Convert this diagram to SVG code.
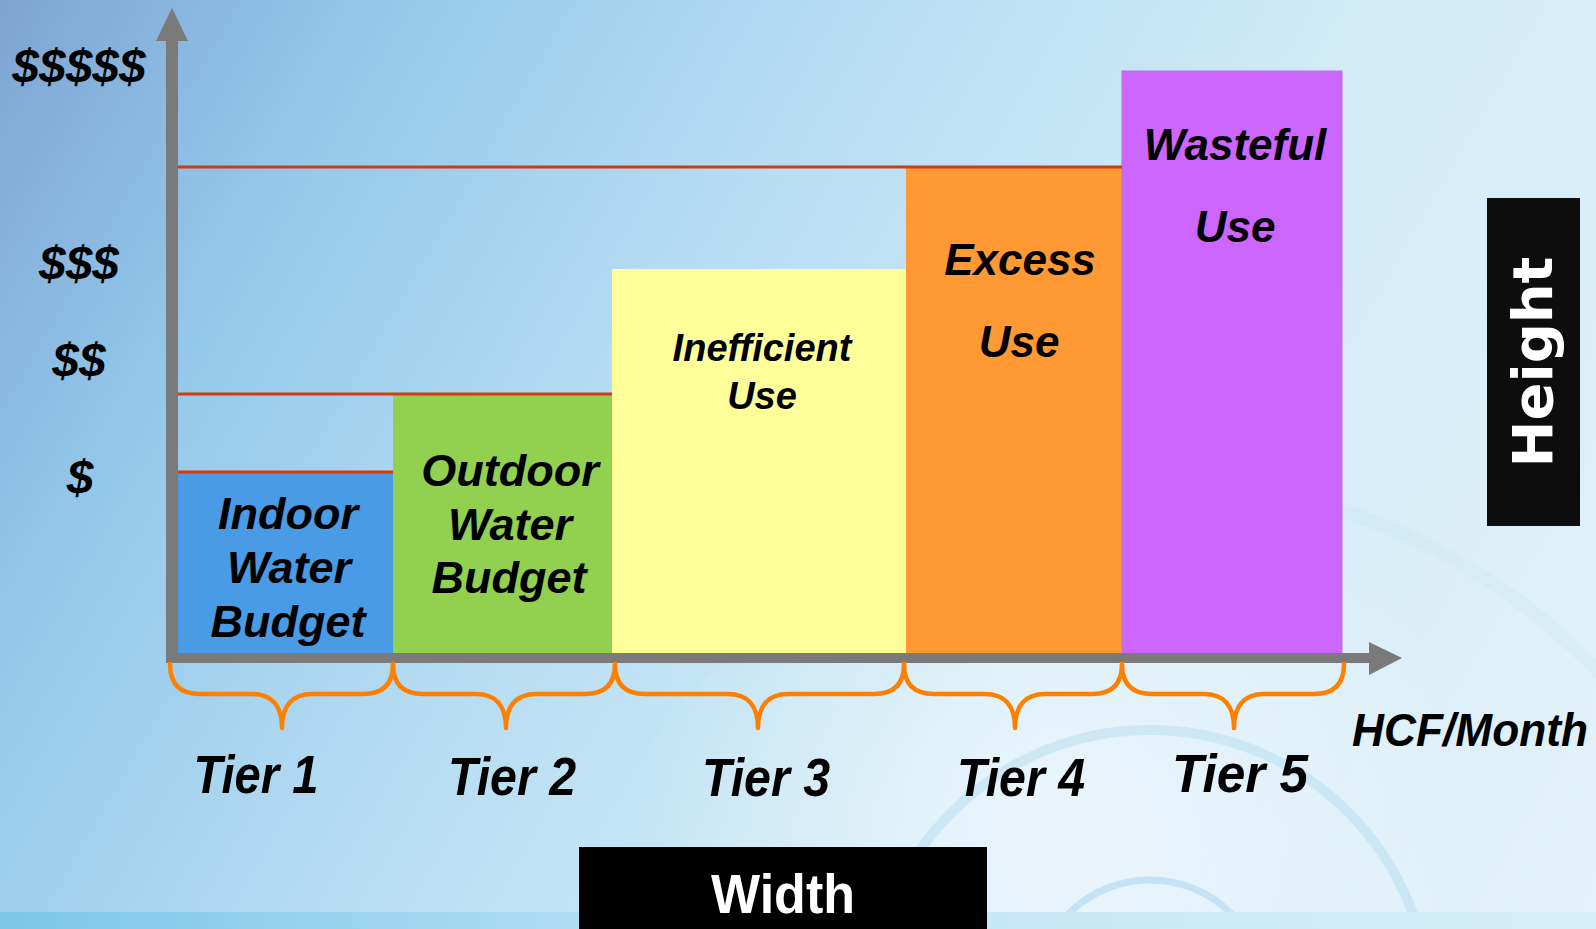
<svg xmlns="http://www.w3.org/2000/svg" width="1596" height="929" viewBox="0 0 1596 929">
<defs>
<linearGradient id="bg" x1="0" y1="0" x2="1596" y2="929" gradientUnits="userSpaceOnUse">
<stop offset="0" stop-color="#7ea4d2"/>
<stop offset="0.18" stop-color="#94c8ea"/>
<stop offset="0.4" stop-color="#b6ddf2"/>
<stop offset="0.65" stop-color="#d2ebf7"/>
<stop offset="1" stop-color="#e4f2fa"/>
</linearGradient>
<radialGradient id="glow" cx="1050" cy="820" r="420" gradientUnits="userSpaceOnUse">
<stop offset="0" stop-color="#ffffff" stop-opacity="0.5"/>
<stop offset="1" stop-color="#ffffff" stop-opacity="0"/>
</radialGradient>
<linearGradient id="strip" x1="0" y1="0" x2="1596" y2="0" gradientUnits="userSpaceOnUse">
<stop offset="0" stop-color="#7cc6ea"/>
<stop offset="0.5" stop-color="#c2e5f5"/>
<stop offset="1" stop-color="#d6eef9"/>
</linearGradient>
<style>
.lbl{font-family:"Liberation Sans",Arial,sans-serif;font-weight:bold;font-style:italic;fill:#000;text-anchor:middle}
.axis{fill:#7a7a7a}
.red{stroke:#d23a12;stroke-width:3;fill:none}
.brace{stroke:#ff8000;stroke-width:4.5;fill:none;stroke-linecap:round;stroke-linejoin:round}
.ripple{fill:none;stroke:#bcdff2}
</style>
</defs>
<rect x="0" y="0" width="1596" height="929" fill="url(#bg)"/>
<rect x="0" y="0" width="1596" height="929" fill="url(#glow)"/>
<g id="ripples">
<circle class="ripple" cx="1150" cy="1010" r="280" stroke-width="10" opacity="0.6"/>
<circle class="ripple" cx="1150" cy="995" r="115" stroke-width="7" opacity="0.8"/>
<circle class="ripple" cx="1150" cy="1100" r="620" stroke-width="14" opacity="0.2"/>
</g>
<rect x="0" y="912" width="1596" height="17" fill="url(#strip)"/>

<g id="bar-tier1"><rect x="178" y="473" width="215" height="183" fill="#4a9be6"/>
<text class="lbl" font-size="45" x="288" y="529">Indoor</text>
<text class="lbl" font-size="45" x="289" y="583">Water</text>
<text class="lbl" font-size="45" x="288" y="637">Budget</text></g>
<g id="bar-tier2"><rect x="393" y="395" width="219" height="261" fill="#92d050"/>
<text class="lbl" font-size="45" x="510" y="486">Outdoor</text>
<text class="lbl" font-size="45" x="510" y="540">Water</text>
<text class="lbl" font-size="45" x="509" y="593">Budget</text></g>
<g id="bar-tier3"><rect x="612" y="269" width="294" height="387" fill="#ffff99"/>
<text class="lbl" font-size="38" x="762" y="361">Inefficient</text>
<text class="lbl" font-size="38" x="762" y="409">Use</text></g>
<g id="bar-tier4"><rect x="906" y="168" width="216" height="488" fill="#ff9933"/>
<text class="lbl" font-size="44" x="1020" y="275">Excess</text>
<text class="lbl" font-size="44" x="1019" y="357">Use</text></g>
<g id="bar-tier5"><rect x="1122" y="71" width="220" height="585" fill="#cc66ff" stroke="#b07ad0" stroke-width="1"/>
<text class="lbl" font-size="44" x="1235" y="160">Wasteful</text>
<text class="lbl" font-size="44" x="1235" y="242">Use</text></g>

<g id="connectors">
<line class="red" x1="172" y1="167" x2="1122" y2="167"/>
<line class="red" x1="172" y1="394" x2="612" y2="394"/>
<line class="red" x1="172" y1="472" x2="393" y2="472"/>
<rect class="axis" x="166" y="40" width="12" height="623"/>
<polygon class="axis" points="156,41 188,41 172,8"/>
<rect class="axis" x="166" y="653" width="1204" height="10"/>
<polygon class="axis" points="1369,642 1369,675 1402,658"/>
<path class="brace" d="M170,664 C170,684 180,694 200,694 L252,694 C272,694 282,706 282,728 C282,706 292,694 312,694 L363,694 C383,694 393,684 393,664"/>
<path class="brace" d="M393,664 C393,684 403,694 423,694 L476,694 C496,694 506,706 506,728 C506,706 516,694 536,694 L585,694 C605,694 615,684 615,664"/>
<path class="brace" d="M615,664 C615,684 625,694 645,694 L728,694 C748,694 758,706 758,728 C758,706 768,694 788,694 L874,694 C894,694 904,684 904,664"/>
<path class="brace" d="M904,664 C904,684 914,694 934,694 L985,694 C1005,694 1015,706 1015,728 C1015,706 1025,694 1045,694 L1092,694 C1112,694 1122,684 1122,664"/>
<path class="brace" d="M1122,664 C1122,684 1132,694 1152,694 L1204,694 C1224,694 1234,706 1234,728 C1234,706 1244,694 1264,694 L1314,694 C1334,694 1344,684 1344,664"/>
</g>

<g id="y-labels">
<text class="lbl" font-size="48" x="79" y="83">$$$$$</text>
<text class="lbl" font-size="48" x="79" y="280">$$$</text>
<text class="lbl" font-size="48" x="79" y="377">$$</text>
<text class="lbl" font-size="48" x="80" y="494">$</text>
</g>
<g id="x-labels">
<text class="lbl" font-size="53" x="256" y="793" textLength="125" lengthAdjust="spacingAndGlyphs">Tier 1</text>
<text class="lbl" font-size="53" x="512" y="795" textLength="128" lengthAdjust="spacingAndGlyphs">Tier 2</text>
<text class="lbl" font-size="53" x="766" y="796" textLength="128" lengthAdjust="spacingAndGlyphs">Tier 3</text>
<text class="lbl" font-size="53" x="1021" y="796" textLength="128" lengthAdjust="spacingAndGlyphs">Tier 4</text>
<text class="lbl" font-size="53" x="1240" y="792" textLength="136" lengthAdjust="spacingAndGlyphs">Tier 5</text>
<text class="lbl" font-size="46" x="1470" y="746" textLength="236" lengthAdjust="spacingAndGlyphs">HCF/Month</text>
</g>
<g id="height-box">
<rect x="1487" y="198" width="93" height="328" fill="#0d0d0d"/>
<text transform="translate(1552,362) rotate(-90)" font-family="'DejaVu Sans',sans-serif" font-weight="bold" font-size="56" fill="#fff" text-anchor="middle">Height</text>
</g>
<g id="width-box">
<rect x="579" y="847" width="408" height="82" fill="#000"/>
<text x="783" y="913" font-family="'Liberation Sans',Arial,sans-serif" font-weight="bold" font-size="56" fill="#fff" text-anchor="middle" textLength="144" lengthAdjust="spacingAndGlyphs">Width</text>
</g>
</svg>
